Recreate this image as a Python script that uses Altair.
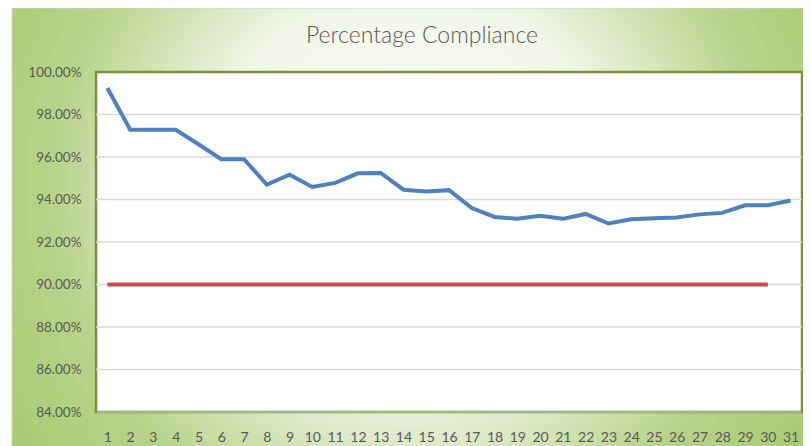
import altair as alt
import pandas as pd

# ---- data ----
days = list(range(1, 32))
compliance = [99.25, 97.28, 97.28, 97.28, 96.60, 95.90, 95.90, 94.70, 95.17, 94.59,
              94.78, 95.23, 95.25, 94.46, 94.38, 94.44, 93.60, 93.18, 93.09, 93.24,
              93.09, 93.32, 92.87, 93.07, 93.12, 93.15, 93.30, 93.37, 93.73, 93.73,
              93.95]
target_days = list(range(1, 31))
target_value = 90.0
grid_values = [86, 88, 90, 92, 94, 96, 98]
y_ticks = [84, 86, 88, 90, 92, 94, 96, 98, 100]

W, H = 706, 340
PAD = {"left": 88, "top": 64, "right": 1, "bottom": 34}
FONT = "Lato"
TEXT = "#595959"

line_df = pd.DataFrame({"day": days, "value": [v / 100 for v in compliance]})
target_df = pd.DataFrame({"day": target_days, "value": [target_value / 100] * len(target_days)})
grid_df = pd.DataFrame({"value": [g / 100 for g in grid_values]})
one = pd.DataFrame({"k": [0]})

xscale = alt.Scale(domain=[0.5, 31.5], nice=False, zero=False)
yscale = alt.Scale(domain=[0.84, 1.0], nice=False, zero=False)

x_axis = alt.Axis(values=days, format="d", title=None, grid=False, domain=False,
                  ticks=False, labelPadding=18, labelFontSize=14, labelFont=FONT,
                  labelColor=TEXT, zindex=2, labelFlush=False)
y_axis = alt.Axis(values=[t / 100 for t in y_ticks], format=".2%", title=None,
                  grid=False, domain=False, ticks=False, labelPadding=15,
                  labelFontSize=13.5, labelFont=FONT, labelColor=TEXT, zindex=2)

gradient = alt.RadialGradient(
    gradient="radial",
    x1=0.5, y1=0.45, r1=0, x2=0.5, y2=0.45, r2=0.72,
    stops=[
        alt.GradientStop(color="#ffffff", offset=0),
        alt.GradientStop(color="#f1f6e8", offset=0.35),
        alt.GradientStop(color="#b8d38a", offset=0.62),
        alt.GradientStop(color="#9cc45a", offset=1),
    ],
)

bg = alt.Chart(one).mark_rect(fill=gradient, stroke="#d0d0d0", strokeWidth=1).encode(
    x=alt.value(-PAD["left"] + 4), x2=alt.value(W + PAD["right"] + 4),
    y=alt.value(-PAD["top"]), y2=alt.value(H + PAD["bottom"] + 4),
)

plot_bg = alt.Chart(one).mark_rect(fill="white", stroke="#77933c", strokeWidth=2.5).encode(
    x=alt.value(0), x2=alt.value(W), y=alt.value(0), y2=alt.value(H),
)

bottom_edge = alt.Chart(one).mark_rule(color="#a3b98a", strokeWidth=2.5).encode(
    x=alt.value(1), x2=alt.value(W - 1), y=alt.value(H),
)

grid = alt.Chart(grid_df).mark_rule(color="#d9d9d9", strokeWidth=1.5).encode(
    y=alt.Y("value:Q", scale=yscale, axis=y_axis),
)

target = alt.Chart(target_df).mark_line(color="#c0504d", strokeWidth=4).encode(
    x=alt.X("day:Q", scale=xscale, axis=x_axis),
    y=alt.Y("value:Q", scale=yscale, axis=y_axis),
)

line = alt.Chart(line_df).mark_line(color="#4f81bd", strokeWidth=4).encode(
    x=alt.X("day:Q", scale=xscale, axis=x_axis),
    y=alt.Y("value:Q", scale=yscale, axis=y_axis),
)

chart = alt.layer(bg, plot_bg, bottom_edge, grid, target, line).properties(
    width=W, height=H,
    padding=PAD,
    autosize=alt.AutoSizeParams(type="none"),
    title=alt.TitleParams("Percentage Compliance", fontSize=23, font=FONT, color=TEXT,
                          fontWeight=300, anchor="middle", dx=-27, offset=-40),
).configure_view(stroke=None)

chart.save("out.html", embed_options={"renderer": "svg", "actions": False})
